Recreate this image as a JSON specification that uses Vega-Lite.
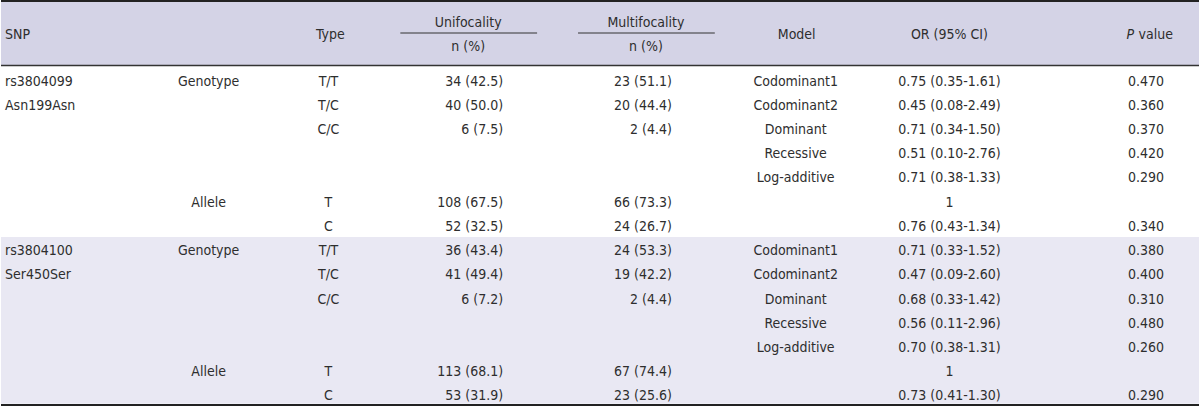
{
  "$schema": "https://vega.github.io/schema/vega-lite/v6.json",
  "width": 1200,
  "height": 406,
  "autosize": {"type": "fit", "contains": "padding"},
  "padding": 0,
  "background": "white",
  "config": {
    "view": {"stroke": null},
    "text": {"font": "DejaVu Sans Condensed, Roboto Condensed, Liberation Sans, sans-serif", "fontSize": 14, "color": "#2e2e2e", "baseline": "middle", "dy": 1.5}
  },
  "datasets": {
    "hdr": [
      {"snp": "SNP", "type": "Type", "unif": "Unifocality", "multi": "Multifocality", "n": "n (%)", "model": "Model", "or": "OR (95% CI)", "p": "P", "pv": "value"}
    ],
    "rows": [
      {"r": 0, "snp": "rs3804099", "kind": "Genotype", "g": "T/T", "unif": "34 (42.5)", "multi": "23 (51.1)", "model": "Codominant1", "or": "0.75 (0.35-1.61)", "p": "0.470"},
      {"r": 1, "snp": "Asn199Asn", "kind": "", "g": "T/C", "unif": "40 (50.0)", "multi": "20 (44.4)", "model": "Codominant2", "or": "0.45 (0.08-2.49)", "p": "0.360"},
      {"r": 2, "snp": "", "kind": "", "g": "C/C", "unif": "6 (7.5)", "multi": "2 (4.4)", "model": "Dominant", "or": "0.71 (0.34-1.50)", "p": "0.370"},
      {"r": 3, "snp": "", "kind": "", "g": "", "unif": "", "multi": "", "model": "Recessive", "or": "0.51 (0.10-2.76)", "p": "0.420"},
      {"r": 4, "snp": "", "kind": "", "g": "", "unif": "", "multi": "", "model": "Log-additive", "or": "0.71 (0.38-1.33)", "p": "0.290"},
      {"r": 5, "snp": "", "kind": "Allele", "g": "T", "unif": "108 (67.5)", "multi": "66 (73.3)", "model": "", "or": "1", "p": ""},
      {"r": 6, "snp": "", "kind": "", "g": "C", "unif": "52 (32.5)", "multi": "24 (26.7)", "model": "", "or": "0.76 (0.43-1.34)", "p": "0.340"},
      {"r": 7, "snp": "rs3804100", "kind": "Genotype", "g": "T/T", "unif": "36 (43.4)", "multi": "24 (53.3)", "model": "Codominant1", "or": "0.71 (0.33-1.52)", "p": "0.380"},
      {"r": 8, "snp": "Ser450Ser", "kind": "", "g": "T/C", "unif": "41 (49.4)", "multi": "19 (42.2)", "model": "Codominant2", "or": "0.47 (0.09-2.60)", "p": "0.400"},
      {"r": 9, "snp": "", "kind": "", "g": "C/C", "unif": "6 (7.2)", "multi": "2 (4.4)", "model": "Dominant", "or": "0.68 (0.33-1.42)", "p": "0.310"},
      {"r": 10, "snp": "", "kind": "", "g": "", "unif": "", "multi": "", "model": "Recessive", "or": "0.56 (0.11-2.96)", "p": "0.480"},
      {"r": 11, "snp": "", "kind": "", "g": "", "unif": "", "multi": "", "model": "Log-additive", "or": "0.70 (0.38-1.31)", "p": "0.260"},
      {"r": 12, "snp": "", "kind": "Allele", "g": "T", "unif": "113 (68.1)", "multi": "67 (74.4)", "model": "", "or": "1", "p": ""},
      {"r": 13, "snp": "", "kind": "", "g": "C", "unif": "53 (31.9)", "multi": "23 (25.6)", "model": "", "or": "0.73 (0.41-1.30)", "p": "0.290"}
    ]
  },
  "resolve": {"scale": {"x": "shared", "y": "shared"}},
  "layer": [
    {
      "data": {"name": "hdr"},
      "mark": {"type": "rect", "color": "#d4d3e6"},
      "encoding": {
        "x": {"datum": 0, "type": "quantitative", "scale": {"domain": [0, 1200], "nice": false, "zero": false}, "axis": null},
        "x2": {"datum": 1200},
        "y": {"datum": -3.302, "type": "quantitative", "scale": {"domain": [-3.302, 13.454], "reverse": true, "zero": false, "nice": false}, "axis": null},
        "y2": {"datum": -0.619}
      }
    },
    {
      "data": {"name": "hdr"},
      "mark": {"type": "rect", "color": "#e9e8f3"},
      "encoding": {
        "x": {"datum": 0, "type": "quantitative"},
        "x2": {"datum": 1200},
        "y": {"datum": 6.48, "type": "quantitative"},
        "y2": {"datum": 13.36}
      }
    },
    {
      "data": {"name": "hdr"},
      "mark": {"type": "rule", "color": "#222222", "strokeWidth": 2},
      "encoding": {"x": {"datum": 0, "type": "quantitative"}, "x2": {"datum": 1200}, "y": {"datum": -3.26, "type": "quantitative"}}
    },
    {
      "data": {"name": "hdr"},
      "mark": {"type": "rule", "color": "#333333", "strokeWidth": 1.5},
      "encoding": {"x": {"datum": 0, "type": "quantitative"}, "x2": {"datum": 1200}, "y": {"datum": -0.598, "type": "quantitative"}}
    },
    {
      "data": {"name": "hdr"},
      "mark": {"type": "rule", "color": "#222222", "strokeWidth": 2},
      "encoding": {"x": {"datum": 0, "type": "quantitative"}, "x2": {"datum": 1200}, "y": {"datum": 13.41, "type": "quantitative"}}
    },
    {
      "data": {"name": "hdr"},
      "mark": {"type": "rule", "color": "#333333", "strokeWidth": 1},
      "encoding": {"x": {"datum": 400, "type": "quantitative"}, "x2": {"datum": 537}, "y": {"datum": -1.94, "type": "quantitative"}}
    },
    {
      "data": {"name": "hdr"},
      "mark": {"type": "rule", "color": "#333333", "strokeWidth": 1},
      "encoding": {"x": {"datum": 578, "type": "quantitative"}, "x2": {"datum": 715}, "y": {"datum": -1.94, "type": "quantitative"}}
    },
    {
      "data": {"name": "hdr"},
      "mark": {"type": "text", "align": "left"},
      "encoding": {"x": {"datum": 4, "type": "quantitative"}, "y": {"datum": -1.94, "type": "quantitative"}, "text": {"field": "snp"}}
    },
    {
      "data": {"name": "hdr"},
      "mark": {"type": "text", "align": "center"},
      "encoding": {"x": {"datum": 330, "type": "quantitative"}, "y": {"datum": -1.94, "type": "quantitative"}, "text": {"field": "type"}}
    },
    {
      "data": {"name": "hdr"},
      "mark": {"type": "text", "align": "center"},
      "encoding": {"x": {"datum": 468, "type": "quantitative"}, "y": {"datum": -2.435, "type": "quantitative"}, "text": {"field": "unif"}}
    },
    {
      "data": {"name": "hdr"},
      "mark": {"type": "text", "align": "center"},
      "encoding": {"x": {"datum": 646, "type": "quantitative"}, "y": {"datum": -2.435, "type": "quantitative"}, "text": {"field": "multi"}}
    },
    {
      "data": {"name": "hdr"},
      "mark": {"type": "text", "align": "center"},
      "encoding": {"x": {"datum": 468, "type": "quantitative"}, "y": {"datum": -1.444, "type": "quantitative"}, "text": {"field": "n"}}
    },
    {
      "data": {"name": "hdr"},
      "mark": {"type": "text", "align": "center"},
      "encoding": {"x": {"datum": 646, "type": "quantitative"}, "y": {"datum": -1.444, "type": "quantitative"}, "text": {"field": "n"}}
    },
    {
      "data": {"name": "hdr"},
      "mark": {"type": "text", "align": "center"},
      "encoding": {"x": {"datum": 797, "type": "quantitative"}, "y": {"datum": -1.94, "type": "quantitative"}, "text": {"field": "model"}}
    },
    {
      "data": {"name": "hdr"},
      "mark": {"type": "text", "align": "center"},
      "encoding": {"x": {"datum": 950, "type": "quantitative"}, "y": {"datum": -1.94, "type": "quantitative"}, "text": {"field": "or"}}
    },
    {
      "data": {"name": "hdr"},
      "mark": {"type": "text", "align": "right", "fontStyle": "italic"},
      "encoding": {"x": {"datum": 1135, "type": "quantitative"}, "y": {"datum": -1.94, "type": "quantitative"}, "text": {"field": "p"}}
    },
    {
      "data": {"name": "hdr"},
      "mark": {"type": "text", "align": "left"},
      "encoding": {"x": {"datum": 1139.5, "type": "quantitative"}, "y": {"datum": -1.94, "type": "quantitative"}, "text": {"field": "pv"}}
    },
    {
      "data": {"name": "rows"},
      "mark": {"type": "text", "align": "left"},
      "encoding": {"x": {"datum": 4, "type": "quantitative"}, "y": {"field": "r", "type": "quantitative"}, "text": {"field": "snp"}}
    },
    {
      "data": {"name": "rows"},
      "mark": {"type": "text", "align": "center"},
      "encoding": {"x": {"datum": 208, "type": "quantitative"}, "y": {"field": "r", "type": "quantitative"}, "text": {"field": "kind"}}
    },
    {
      "data": {"name": "rows"},
      "mark": {"type": "text", "align": "center"},
      "encoding": {"x": {"datum": 328, "type": "quantitative"}, "y": {"field": "r", "type": "quantitative"}, "text": {"field": "g"}}
    },
    {
      "data": {"name": "rows"},
      "mark": {"type": "text", "align": "right"},
      "encoding": {"x": {"datum": 503, "type": "quantitative"}, "y": {"field": "r", "type": "quantitative"}, "text": {"field": "unif"}}
    },
    {
      "data": {"name": "rows"},
      "mark": {"type": "text", "align": "right"},
      "encoding": {"x": {"datum": 672, "type": "quantitative"}, "y": {"field": "r", "type": "quantitative"}, "text": {"field": "multi"}}
    },
    {
      "data": {"name": "rows"},
      "mark": {"type": "text", "align": "center"},
      "encoding": {"x": {"datum": 796, "type": "quantitative"}, "y": {"field": "r", "type": "quantitative"}, "text": {"field": "model"}}
    },
    {
      "data": {"name": "rows"},
      "mark": {"type": "text", "align": "center"},
      "encoding": {"x": {"datum": 950, "type": "quantitative"}, "y": {"field": "r", "type": "quantitative"}, "text": {"field": "or"}}
    },
    {
      "data": {"name": "rows"},
      "mark": {"type": "text", "align": "center"},
      "encoding": {"x": {"datum": 1147, "type": "quantitative"}, "y": {"field": "r", "type": "quantitative"}, "text": {"field": "p"}}
    }
  ]
}
